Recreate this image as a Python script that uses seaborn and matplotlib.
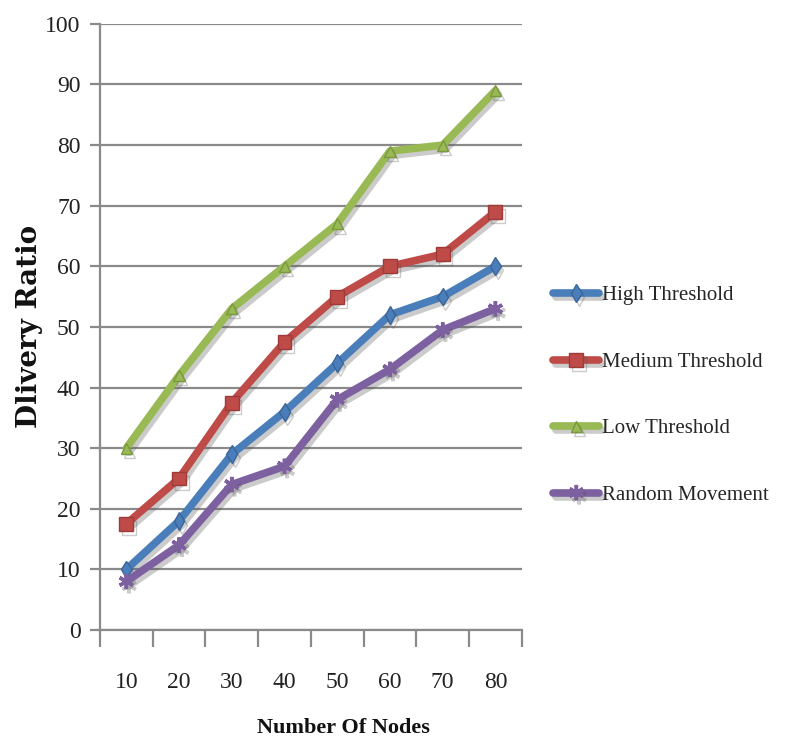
import matplotlib
matplotlib.use("Agg")
import matplotlib.pyplot as plt
import matplotlib.patheffects as pe
from matplotlib.ticker import FixedLocator
import seaborn as sns
import pandas as pd

nodes = ["10", "20", "30", "40", "50", "60", "70", "80"]
high_threshold = [10, 18, 29, 36, 44, 52, 55, 60]
medium_threshold = [17.5, 25, 37.5, 47.5, 55, 60, 62, 69]
low_threshold = [30, 42, 53, 60, 67, 79, 80, 89]
random_movement = [8, 14, 24, 27, 38, 43, 49.5, 53]

series_names = ["High Threshold", "Medium Threshold", "Low Threshold", "Random Movement"]
series_values = [high_threshold, medium_threshold, low_threshold, random_movement]
colors = ["#4A7EBB", "#BE4B48", "#98B954", "#7D60A0"]
edge_colors = ["#3A6599", "#9C3B38", "#7A9A3E", "#5F4880"]
markers = ["d", "s", "^", (6, 2, 0)]
msizes = [9, 10, 8, 11]

sns.set_style("white")
plt.rcParams["font.family"] = ["Liberation Serif", "DejaVu Serif"]

fig = plt.figure(figsize=(7.87, 7.46), dpi=100)
ax = fig.add_axes([0.127, 0.1555, 0.536, 0.8125])

shadow = [pe.SimpleLineShadow(offset=(2, -3), shadow_color="#555555", alpha=0.3), pe.Normal()]

for name, vals, c, ec, m, ms in zip(series_names, series_values, colors, edge_colors, markers, msizes):
    df = pd.DataFrame({"Nodes": nodes, "Ratio": vals})
    star = m == (6, 2, 0)
    sns.lineplot(data=df, x="Nodes", y="Ratio", ax=ax, color=c, linewidth=5.5,
                 marker=m, markersize=ms, markeredgecolor=c if star else ec,
                 markeredgewidth=2.5 if star else 1.0,
                 label=name, path_effects=shadow, sort=False)

ax.set_ylim(0, 100)
ax.set_xlim(-0.5, 7.5)
ax.set_yticks(range(0, 101, 10))
ax.yaxis.grid(True, color="#8a8a8a", linewidth=1.6)
ax.set_axisbelow(True)

for side in ["top", "right"]:
    ax.spines[side].set_visible(False)
for side in ["left", "bottom"]:
    ax.spines[side].set_color("#8a8a8a")
    ax.spines[side].set_linewidth(1.6)

ax.tick_params(axis="y", which="major", left=True, length=7, width=1.6, color="#8a8a8a",
               labelsize=17, pad=7, labelcolor="#222222")
ax.tick_params(axis="x", which="major", bottom=False, length=0, labelsize=17, pad=30,
               labelcolor="#222222")
ax.xaxis.set_minor_locator(FixedLocator([i - 0.5 for i in range(9)]))
ax.tick_params(axis="x", which="minor", bottom=True, length=12, width=1.6, color="#8a8a8a")

ax.set_xlabel("Number Of Nodes", fontsize=16, fontweight="bold", color="#111111")
ax.xaxis.set_label_coords(0.578, -0.145)
ax.set_ylabel("Dlivery Ratio", fontsize=20, fontweight="bold", color="#111111",
              family=["DejaVu Serif"])
ax.yaxis.set_label_coords(-0.135, 0.5)

handles, labels = ax.get_legend_handles_labels()
ax.legend(handles, labels, loc="center left", bbox_to_anchor=(0.69, 0.47),
          bbox_transform=fig.transFigure, frameon=False, fontsize=15,
          handlelength=2.2, handletextpad=0.15, labelspacing=2.25, borderpad=0)

fig.savefig("out.png", dpi=100)
